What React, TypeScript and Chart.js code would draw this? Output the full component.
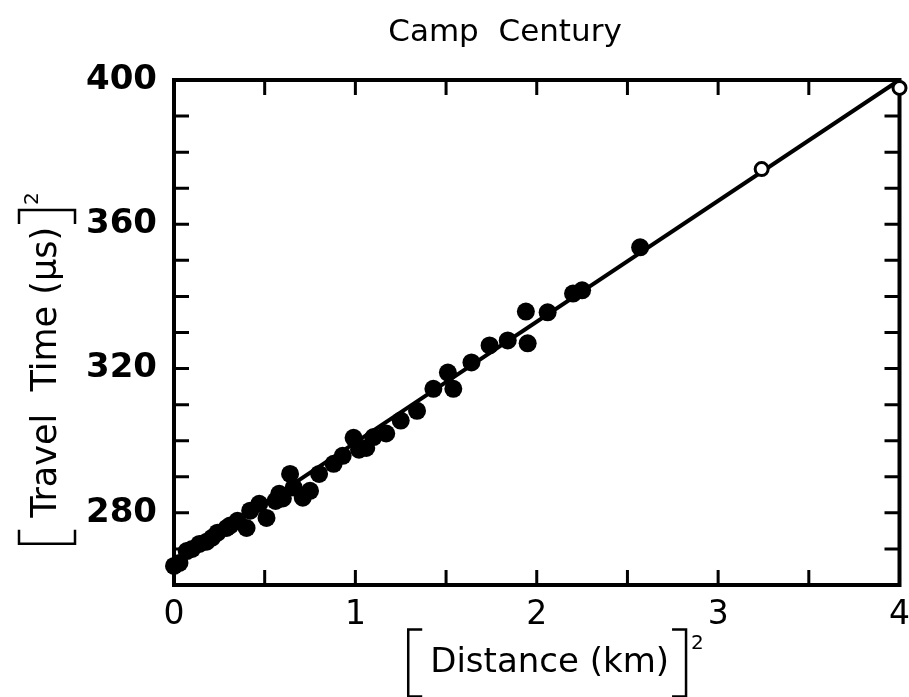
import React, { useEffect, useRef } from "react";
import { Chart, registerables } from "chart.js";

Chart.register(...registerables);

const chartTitle = "Camp  Century";
const xTitle = "Distance (km)";
const yTitle = "Travel  Time (μs)";
const xTickLabels = ["0", "1", "2", "3", "4"];
const yTickLabels = ["280", "320", "360", "400"];

const filledX = [0.0, 0.03, 0.07, 0.1, 0.14, 0.18, 0.21, 0.24, 0.29, 0.31, 0.35, 0.4, 0.42, 0.47, 0.51, 0.56, 0.58, 0.6, 0.64, 0.66, 0.71, 0.75, 0.8, 0.88, 0.93, 0.99, 1.02, 1.06, 1.1, 1.17, 1.25, 1.34, 1.43, 1.51, 1.54, 1.64, 1.74, 1.84, 1.94, 1.95, 2.06, 2.2, 2.25, 2.57];
const filledY = [265.3, 266.1, 269.4, 270.0, 271.4, 272.0, 273.1, 274.5, 275.8, 276.5, 277.8, 275.8, 280.6, 282.5, 278.6, 283.3, 285.3, 284.0, 290.8, 287.0, 284.2, 286.1, 290.8, 293.6, 295.8, 300.8, 297.5, 298.0, 301.0, 302.0, 305.6, 308.3, 314.4, 318.9, 314.4, 321.7, 326.4, 327.8, 335.8, 327.0, 335.6, 340.8, 341.7, 353.6];
const openX = [3.24, 4.0];
const openY = [375.3, 397.8];
const fitX = [0, 4];
const fitY = [266, 400];

const FONT = "DejaVu Sans";

const framePlugin = {
  id: "frame",
  beforeDatasetsDraw(chart: any) {
    const { ctx, chartArea: a, scales } = chart;
    const xs = scales.x;
    const ys = scales.y;
    ctx.save();
    ctx.strokeStyle = "#000";
    ctx.lineWidth = 4;
    ctx.strokeRect(a.left, a.top, a.right - a.left, a.bottom - a.top);
    const tl = 15;
    ctx.lineWidth = 3;
    ctx.beginPath();
    for (let v = 0; v <= 4.0001; v += 0.5) {
      if (v < 0.01 || v > 3.99) continue;
      const px = xs.getPixelForValue(v);
      ctx.moveTo(px, a.bottom);
      ctx.lineTo(px, a.bottom - tl);
      ctx.moveTo(px, a.top);
      ctx.lineTo(px, a.top + tl);
    }
    for (let v = 270; v <= 399; v += 10) {
      const py = ys.getPixelForValue(v);
      ctx.moveTo(a.left, py);
      ctx.lineTo(a.left + tl, py);
      ctx.moveTo(a.right, py);
      ctx.lineTo(a.right - tl, py);
    }
    ctx.stroke();
    ctx.restore();
  },
  afterDraw(chart: any) {
    const { ctx } = chart;
    ctx.save();
    ctx.fillStyle = "#000";
    ctx.strokeStyle = "#000";
    ctx.textBaseline = "middle";
    ctx.textAlign = "center";
    ctx.font = `31px '${FONT}'`;
    ctx.fillText(chartTitle, 505, 33);

    const drawBracketed = (
      text: string, cx: number, cy: number, mainSize: number, brH: number,
      supSize: number, gapL: number, gapR: number
    ) => {
      ctx.textAlign = "left";
      ctx.textBaseline = "middle";
      ctx.font = `${mainSize}px '${FONT}'`;
      const wm = ctx.measureText(text).width;
      ctx.font = `${supSize}px '${FONT}'`;
      const ws = ctx.measureText("2").width;
      const total = gapL + wm + gapR + 5 + ws;
      const x0 = cx - total / 2;
      const top = cy - brH / 2;
      const bot = cy + brH / 2;
      const serif = 14;
      ctx.lineWidth = 2.5;
      ctx.beginPath();
      ctx.moveTo(x0 + serif, top);
      ctx.lineTo(x0, top);
      ctx.lineTo(x0, bot);
      ctx.lineTo(x0 + serif, bot);
      const xr = x0 + gapL + wm + gapR;
      ctx.moveTo(xr - serif, top);
      ctx.lineTo(xr, top);
      ctx.lineTo(xr, bot);
      ctx.lineTo(xr - serif, bot);
      ctx.stroke();
      ctx.font = `${mainSize}px '${FONT}'`;
      ctx.fillText(text, x0 + gapL, cy);
      ctx.font = `${supSize}px '${FONT}'`;
      ctx.fillText("2", xr + 5, top + supSize * 0.7);
    };

    drawBracketed(xTitle, 556, 663, 34, 67, 20, 22, 17);

    ctx.translate(47, 368);
    ctx.rotate(-Math.PI / 2);
    drawBracketed(yTitle, 0, 0, 35, 56, 20, 26, 17);
    ctx.restore();
  },
};

export default function App() {
  const ref = useRef<HTMLCanvasElement | null>(null);
  useEffect(() => {
    if (!ref.current) return;
    const chart = new Chart(ref.current, {
      type: "scatter",
      data: {
        datasets: [
          {
            label: "fit",
            data: fitX.map((x, i) => ({ x, y: fitY[i] })),
            showLine: true,
            borderColor: "#000",
            borderWidth: 4,
            pointRadius: 0,
            clip: false,
            order: 3,
          } as any,
          {
            label: "measured",
            data: filledX.map((x, i) => ({ x, y: filledY[i] })),
            backgroundColor: "#000",
            borderColor: "#000",
            borderWidth: 0,
            pointRadius: 9,
            clip: false,
            order: 2,
          } as any,
          {
            label: "extrapolated",
            data: openX.map((x, i) => ({ x, y: openY[i] })),
            backgroundColor: "#fff",
            borderColor: "#000",
            borderWidth: 3,
            pointRadius: 6.5,
            clip: false,
            order: 1,
          } as any,
        ],
      },
      options: {
        animation: false,
        responsive: false,
        devicePixelRatio: 1,
        layout: { padding: { top: 80, right: 9, bottom: 0, left: 0 } },
        plugins: { legend: { display: false }, tooltip: { enabled: false }, title: { display: false } },
        scales: {
          x: {
            type: "linear",
            min: 0,
            max: 4,
            afterFit: (s: any) => { s.height = 112; s.paddingRight = 0; s.paddingLeft = 0; },
            grid: { display: false, drawTicks: false },
            border: { display: false },
            ticks: {
              stepSize: 0.5,
              autoSkip: false,
              maxRotation: 0,
              padding: 11,
              color: "#000",
              font: { family: FONT, size: 33 },
              callback: (v: any) => (Number.isInteger(v) ? xTickLabels[v] : ""),
            },
          },
          y: {
            type: "linear",
            min: 260,
            max: 400,
            afterFit: (s: any) => { s.width = 174; s.paddingTop = 0; s.paddingBottom = 0; },
            grid: { display: false, drawTicks: false },
            border: { display: false },
            ticks: {
              stepSize: 10,
              autoSkip: false,
              padding: 17,
              color: "#000",
              font: { family: FONT, size: 34, weight: "bold" },
              callback: (v: any) => {
                const i = yTickLabels.indexOf(String(v));
                return i >= 0 ? yTickLabels[i] : "";
              },
            },
          },
        },
      },
      plugins: [framePlugin],
    });
    return () => chart.destroy();
  }, []);
  return (
    <div style={{ position: "absolute", left: 0, top: 0, width: 909, height: 697, background: "#fff" }}>
      <canvas ref={ref} width={909} height={697} />
    </div>
  );
}
